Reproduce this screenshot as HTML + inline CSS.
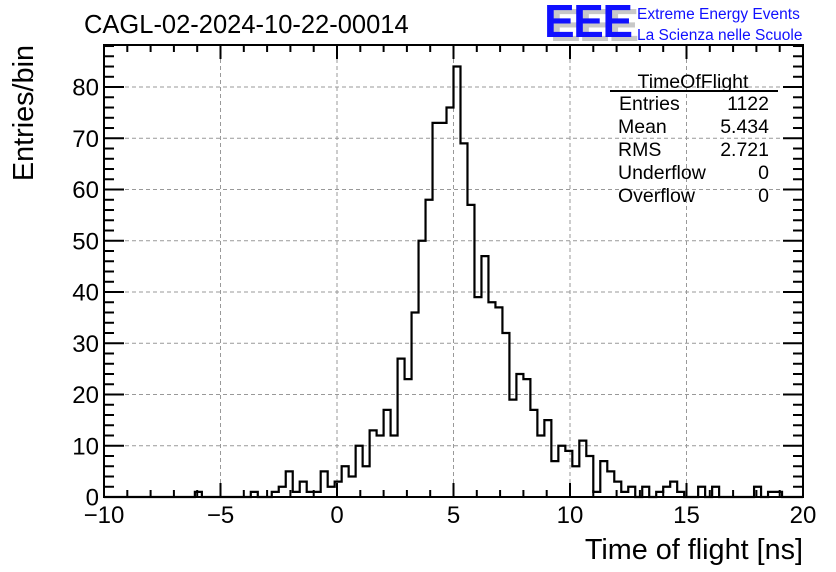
<!DOCTYPE html>
<html><head><meta charset="utf-8">
<style>
html,body{margin:0;padding:0;background:#fff;}
svg{display:block;font-family:"Liberation Sans",Arial,sans-serif;}
</style></head>
<body>
<svg id="chart" width="836" height="572" viewBox="0 0 836 572" xmlns="http://www.w3.org/2000/svg">
  <rect width="836" height="572" fill="#fff"/>
  <text x="84" y="33" font-size="25.5" fill="#000">CAGL-02-2024-10-22-00014</text>
  <g>
    <text x="550" y="41" font-size="46" font-weight="bold" fill="#c8c8c8" letter-spacing="-1.5">EEE</text>
    <text x="544" y="37" font-size="46" font-weight="bold" fill="#1010ff" letter-spacing="-1.5">EEE</text>
    <text x="637" y="19" font-size="15.5" fill="#1010ff">Extreme Energy Events</text>
    <text x="637" y="40" font-size="15.5" fill="#1010ff">La Scienza nelle Scuole</text>
  </g>
  <g id="grid"></g>
  <g id="hist"></g>
  <g id="axes"></g>
  <g font-size="19.5" fill="#000">
    <text x="693" y="88" text-anchor="middle">TimeOfFlight</text>
    <line x1="610" y1="91" x2="778" y2="91" stroke="#000" stroke-width="2"/>
    <text x="619" y="110">Entries</text><text x="769" y="110" text-anchor="end">1122</text>
    <text x="618" y="133">Mean</text><text x="769" y="133" text-anchor="end">5.434</text>
    <text x="618" y="156">RMS</text><text x="769" y="156" text-anchor="end">2.721</text>
    <text x="618" y="179">Underflow</text><text x="769" y="179" text-anchor="end">0</text>
    <text x="618" y="202">Overflow</text><text x="769" y="202" text-anchor="end">0</text>
  </g>
  <text transform="translate(33,45) rotate(-90)" text-anchor="end" font-size="28.8">Entries/bin</text>
  <text x="803" y="559" text-anchor="end" font-size="28.8">Time of flight [ns]</text>
</svg>
<script>
const binEdgesStart = -10;
const binWidth = 0.3;
const binCounts = [
  0,0,0,0,0,0,0,0,0,0, 0,0,0,1,0,0,0,0,0,0, 0,1,0,0,1,2,5,1,3,1,
  1,5,2,3,6,4,10,6,13,12, 17,12,27,23,36,50,58,73,73,76, 84,69,57,39,47,38,37,32,19,24,
  23,17,12,15,7,10,9,6,11,8, 1,7,5,3,1,2,0,2,0,1, 2,3,1,0,0,2,0,2,0,0,
  0,0,0,2,0,1,1,0,0,0
];
const xTicks = [-10,-5,0,5,10,15,20];
const yTicks = [0,10,20,30,40,50,60,70,80];
const xMin=-10, xMax=20, yMin=0, yMax=88.2;
const L=104, R=803, T=45, B=497;
const NS="http://www.w3.org/2000/svg";
function X(v){return L+(v-xMin)/(xMax-xMin)*(R-L);}
function Y(v){return B-(v-yMin)/(yMax-yMin)*(B-T);}
function mk(tag,attrs,parent){const e=document.createElementNS(NS,tag);for(const k in attrs)e.setAttribute(k,attrs[k]);parent.appendChild(e);return e;}
const grid=document.getElementById('grid'), axes=document.getElementById('axes'), hist=document.getElementById('hist');
xTicks.forEach(v=>{if(v>xMin&&v<xMax){const l=mk('line',{x1:X(v),x2:X(v),y1:T,y2:B,stroke:'#999','stroke-dasharray':'4,3','stroke-width':1},grid);

}});
yTicks.forEach(v=>{if(v>yMin){const l=mk('line',{x1:L,x2:R,y1:Y(v),y2:Y(v),stroke:'#999','stroke-dasharray':'4,3','stroke-width':1},grid);

}});
let d='M'+X(binEdgesStart)+','+Y(0);
binCounts.forEach((c,i)=>{const x0=X(binEdgesStart+i*binWidth),x1=X(binEdgesStart+(i+1)*binWidth);d+=' L'+x0+','+Y(c)+' L'+x1+','+Y(c);});
d+=' L'+X(binEdgesStart+binCounts.length*binWidth)+','+Y(0);
const p=mk('path',{d:d,fill:'none',stroke:'#000','stroke-width':2.2},hist);


const fr=mk('rect',{x:L,y:T,width:R-L,height:B-T,fill:'none',stroke:'#000','stroke-width':2},axes);


for(let v=xMin;v<=xMax;v+=1){const major=v%5===0;const len=major?14:7;
mk('line',{x1:X(v),x2:X(v),y1:B,y2:B-len,stroke:'#000','stroke-width':2},axes);
mk('line',{x1:X(v),x2:X(v),y1:T,y2:T+len,stroke:'#000','stroke-width':2},axes);}
xTicks.forEach(v=>{const t=mk('text',{x:X(v),y:523,'text-anchor':'middle','font-size':24},axes);t.textContent=(v<0?'\u2212'+(-v):v);

});
for(let v=0;v<=88;v+=2){const major=v%10===0;const len=major?20:10;
mk('line',{x1:L,x2:L+len,y1:Y(v),y2:Y(v),stroke:'#000','stroke-width':2},axes);
mk('line',{x1:R,x2:R-len,y1:Y(v),y2:Y(v),stroke:'#000','stroke-width':2},axes);}
yTicks.forEach(v=>{const t=mk('text',{x:99,y:Y(v)+8.5,'text-anchor':'end','font-size':24},axes);t.textContent=v;

});
</script>
</body></html>
